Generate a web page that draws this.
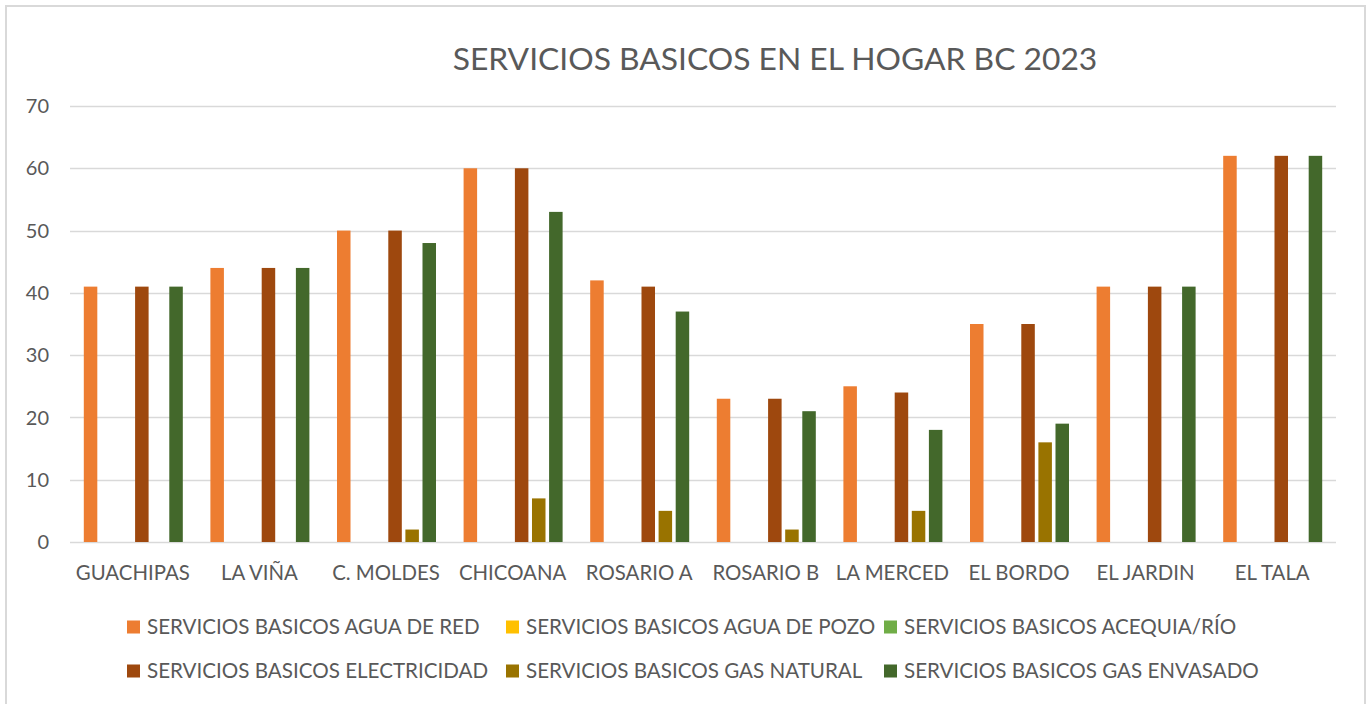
<!DOCTYPE html>
<html>
<head>
<meta charset="utf-8">
<script src="https://cdn.jsdelivr.net/npm/d3@7"></script>
<style>
  body { margin: 0; background: #fff; }
  text { font-family: Lato, 'Open Sans', sans-serif; fill: #595959; }
</style>
</head>
<body>
<div id="chart"></div>
<script>
const municipios = ['GUACHIPAS', 'LA VIÑA', 'C. MOLDES', 'CHICOANA', 'ROSARIO A', 'ROSARIO B', 'LA MERCED', 'EL BORDO', 'EL JARDIN', 'EL TALA']

const seriesNames = [
  'SERVICIOS BASICOS AGUA DE RED',
  'SERVICIOS BASICOS AGUA DE POZO',
  'SERVICIOS BASICOS ACEQUIA/RÍO',
  'SERVICIOS BASICOS ELECTRICIDAD',
  'SERVICIOS BASICOS GAS NATURAL',
  'SERVICIOS BASICOS GAS ENVASADO'
]

const aguaRed = [41, 44, 50, 60, 42, 23, 25, 35, 41, 62]
const aguaPozo = [0, 0, 0, 0, 0, 0, 0, 0, 0, 0]
const acequia = [0, 0, 0, 0, 0, 0, 0, 0, 0, 0]
const electricidad = [41, 44, 50, 60, 41, 23, 24, 35, 41, 62]
const gasNatural = [0, 0, 2, 7, 5, 2, 5, 16, 0, 0]
const gasEnvasado = [41, 44, 48, 53, 37, 21, 18, 19, 41, 62]

const yTicks = [0, 10, 20, 30, 40, 50, 60, 70]

const colors = ['#ED7D31', '#FFC000', '#70AD47', '#9E480E', '#997300', '#43682B']

const allSeries = [aguaRed, aguaPozo, acequia, electricidad, gasNatural, gasEnvasado]

const width = 1372
const height = 704
const margin = { top: 106, left: 70, right: 36, bottom: 162 }

const svg = d3
  .select('#chart')
  .append('svg')
  .attr('width', width)
  .attr('height', height)

// chart area border
svg
  .append('rect')
  .attr('x', 6)
  .attr('y', 6)
  .attr('width', 1359)
  .attr('height', 720)
  .attr('fill', 'none')
  .attr('stroke', '#d9d9d9')
  .attr('stroke-width', 2)

const x0 = d3
  .scaleBand()
  .domain(municipios)
  .range([margin.left, width - margin.right])
  .paddingInner(0.218)
  .paddingOuter(0.109)

const x1 = d3
  .scaleBand()
  .domain(d3.range(seriesNames.length))
  .range([0, x0.bandwidth()])
  .paddingInner(0.21)

const y = d3
  .scaleLinear()
  .domain([0, 70])
  .range([height - margin.bottom, margin.top])

// gridlines
svg
  .selectAll('.grid')
  .data(yTicks)
  .enter()
  .append('line')
  .attr('class', 'grid')
  .attr('x1', margin.left)
  .attr('x2', width - margin.right)
  .attr('y1', d => Math.round(y(d)) + 0.5)
  .attr('y2', d => Math.round(y(d)) + 0.5)
  .attr('stroke', '#d9d9d9')
  .attr('stroke-width', 1.5)

// y labels
svg
  .selectAll('.y-label')
  .data(yTicks)
  .enter()
  .append('text')
  .attr('class', 'y-label')
  .attr('x', 49)
  .attr('y', d => y(d))
  .attr('dy', '0.36em')
  .attr('text-anchor', 'end')
  .attr('font-size', 20)
  .text(d => d)

// bars
const groups = svg
  .selectAll('.group')
  .data(municipios)
  .enter()
  .append('g')
  .attr('class', 'group')
  .attr('transform', d => 'translate(' + x0(d) + ',0)')

groups
  .selectAll('rect')
  .data((d, i) => allSeries.map((s, j) => ({ key: j, value: s[i] })))
  .enter()
  .append('rect')
  .attr('x', d => x1(d.key))
  .attr('width', x1.bandwidth())
  .attr('y', d => y(d.value))
  .attr('height', d => y(0) - y(d.value))
  .attr('fill', d => colors[d.key])

// category labels
svg
  .selectAll('.x-label')
  .data(municipios)
  .enter()
  .append('text')
  .attr('class', 'x-label')
  .attr('x', d => x0(d) + x0.bandwidth() / 2 - 0.5)
  .attr('y', 580)
  .attr('text-anchor', 'middle')
  .attr('font-size', 20.4)
  .text(d => d)

// title
svg
  .append('text')
  .attr('x', 775)
  .attr('y', 70)
  .attr('text-anchor', 'middle')
  .attr('font-size', 31.8)
  .text('SERVICIOS BASICOS EN EL HOGAR BC 2023')

// legend
const legendX = [127, 506, 884]
const legendY = [627, 671]

const legend = svg
  .selectAll('.legend')
  .data(seriesNames)
  .enter()
  .append('g')
  .attr('class', 'legend')
  .attr('transform', (d, i) => 'translate(' + legendX[i % 3] + ',' + legendY[Math.floor(i / 3)] + ')')

legend
  .append('rect')
  .attr('x', 0)
  .attr('y', -6.5)
  .attr('width', 13)
  .attr('height', 13)
  .attr('fill', (d, i) => colors[i])

legend
  .append('text')
  .attr('x', 20)
  .attr('y', 0)
  .attr('dy', '0.36em')
  .attr('font-size', 20.6)
  .text(d => d)
</script>
</body>
</html>
